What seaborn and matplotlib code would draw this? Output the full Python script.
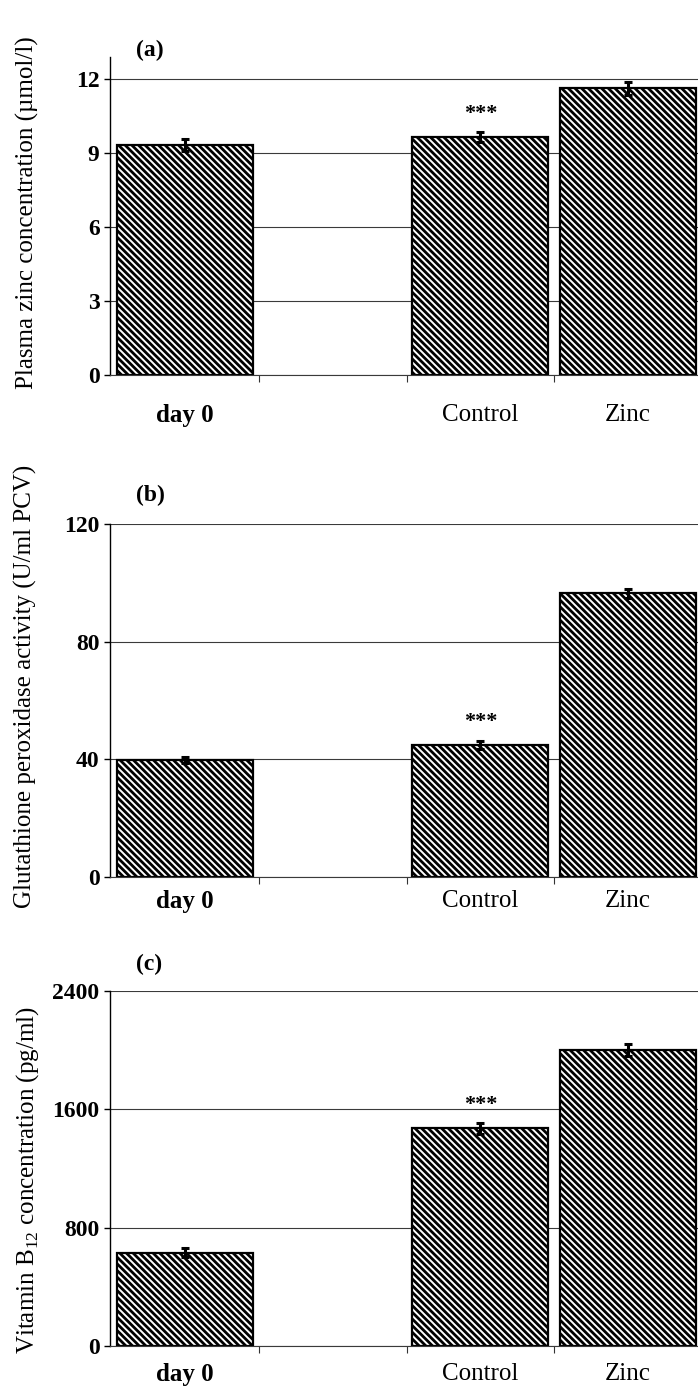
import matplotlib
matplotlib.use("Agg")
import matplotlib.pyplot as plt
import seaborn as sns
import pandas as pd

# groups and the empty slot between day 0 and the treatment groups
groups = ["day 0", "Control", "Zinc"]
slots = ["day 0", "gap", "Control", "Zinc"]

# (a) plasma zinc, (b) glutathione peroxidase, (c) vitamin B12
zinc_mean = [9.3, 9.65, 11.6]
zinc_err = [0.25, 0.2, 0.25]
gpx_mean = [39.8, 44.9, 96.5]
gpx_err = [1.0, 1.5, 1.5]
b12_mean = [630, 1470, 2000]
b12_err = [30, 40, 40]

zinc_ticks = [0, 3, 6, 9, 12]
gpx_ticks = [0, 40, 80, 120]
b12_ticks = [0, 800, 1600, 2400]

sns.set_theme(style="white")
plt.rcParams["font.family"] = ["Liberation Serif", "DejaVu Serif"]
plt.rcParams["mathtext.fontset"] = "custom"
plt.rcParams["mathtext.rm"] = "Liberation Serif"
plt.rcParams["hatch.linewidth"] = 2.0
plt.rcParams["hatch.color"] = "black"
plt.rcParams["text.color"] = "black"
plt.rcParams["xtick.color"] = "black"
plt.rcParams["ytick.color"] = "black"

fig = plt.figure(figsize=(6.98, 13.89), dpi=100)

panels = [
    dict(mean=zinc_mean, err=zinc_err, ticks=zinc_ticks, ymax=12.87,
         rect=[0.1576, 0.730, 0.8424, 0.2289], tag="(a)", tag_xy=(0.215, 0.964),
         ylabel="Plasma zinc concentration (µmol/l)", ylab_xy=(0.039, 0.847), pad=21),
    dict(mean=gpx_mean, err=gpx_err, ticks=gpx_ticks, ymax=120,
         rect=[0.1576, 0.3686, 0.8424, 0.2541], tag="(b)", tag_xy=(0.216, 0.6436),
         ylabel="Glutathione peroxidase activity (U/ml PCV)", ylab_xy=(0.036, 0.506), pad=9),
    dict(mean=b12_mean, err=b12_err, ticks=b12_ticks, ymax=2400,
         rect=[0.1576, 0.031, 0.8424, 0.2556], tag="(c)", tag_xy=(0.213, 0.3053),
         ylabel="Vitamin B$_{12}$ concentration (pg/ml)", ylab_xy=(0.039, 0.1505), pad=12),
]

for p in panels:
    ax = fig.add_axes(p["rect"])
    df = pd.DataFrame({"group": groups, "value": p["mean"]})
    sns.barplot(data=df, x="group", y="value", order=slots, color="white",
                saturation=1, edgecolor="black", linewidth=1.6, hatch="\\" * 5,
                width=0.92, errorbar=None, ax=ax)
    xpos = [slots.index(g) for g in groups]
    ax.errorbar(xpos, p["mean"], yerr=p["err"], fmt="none", ecolor="black",
                elinewidth=2.2, capsize=3, capthick=2.2, zorder=3)

    # significance mark over Control
    ci = groups.index("Control")
    ax.annotate("***", xy=(xpos[ci], p["mean"][ci] + p["err"][ci]), xytext=(0, 13),
                textcoords="offset points", ha="center", va="center",
                fontsize=16, fontweight="bold")

    ax.set_xlim(-0.51, 3.476)
    ax.set_ylim(0, p["ymax"])
    ax.set_yticks(p["ticks"])
    ax.set_yticklabels([str(t) for t in p["ticks"]], fontsize=17, fontweight="bold")
    ax.yaxis.grid(True, color="#3a3a3a", linewidth=0.8)
    ax.set_axisbelow(True)

    ax.set_xticks(xpos)
    ax.set_xticklabels(groups, fontsize=18)
    ax.get_xticklabels()[0].set_fontweight("bold")
    ax.set_xticks([0.5, 1.5, 2.5], minor=True)
    ax.tick_params(axis="x", which="major", length=0, pad=p["pad"])
    ax.tick_params(axis="x", which="minor", length=5, width=0.8, color="#333",
                   direction="out", bottom=True)
    ax.tick_params(axis="y", length=4.5, width=1, color="black",
                   direction="out", left=True, pad=3)
    ax.set_xlabel("")
    ax.set_ylabel("")

    for s in ["top", "right"]:
        ax.spines[s].set_visible(False)
    ax.spines["left"].set_color("black")
    ax.spines["left"].set_linewidth(1.0)
    ax.spines["bottom"].set_color("#3a3a3a")
    ax.spines["bottom"].set_linewidth(0.8)

    fig.text(p["tag_xy"][0], p["tag_xy"][1], p["tag"], fontsize=17,
             fontweight="bold", ha="center", va="center")
    fig.text(p["ylab_xy"][0], p["ylab_xy"][1], p["ylabel"], fontsize=18,
             rotation=90, ha="center", va="center")

fig.savefig("out.png", dpi=100)
